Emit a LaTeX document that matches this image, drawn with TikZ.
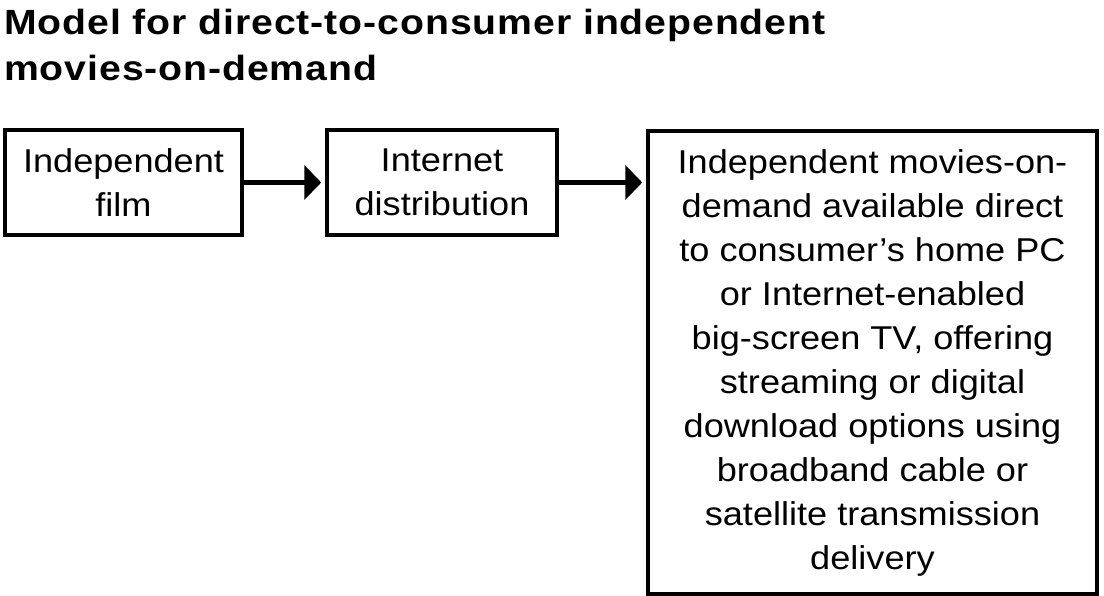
\documentclass[tikz,border=0pt]{standalone}
\usepackage{fontspec}
\setmainfont{Liberation Sans}
\newfontfamily\boxfont[FakeStretch=1.095]{Liberation Sans}
\newfontfamily\titlefont[FakeStretch=1.12,LetterSpace=2.6]{Liberation Sans Bold}
\usetikzlibrary{arrows.meta}
\begin{document}
\begin{tikzpicture}[x=1pt,y=-1pt,
  boxst/.style={draw=black,line width=3.5pt,inner sep=0pt,align=center,
    font=\boxfont\fontsize{33}{44}\selectfont},
  arr/.style={line width=4.5pt,-{Triangle[length=17pt,width=34pt]},shorten >=4pt}]
\useasboundingbox (0,0) rectangle (1104,596);
\node[anchor=north west,align=left,inner sep=0pt,font=\titlefont\fontsize{35}{46}\selectfont] (title) at (4,9) {Model for direct-to-consumer independent\\movies-on-demand};
\node[boxst,minimum width=237pt,minimum height=105pt] (b1) at (123.5,182.5) {Independent\\film};
\node[boxst,minimum width=230pt,minimum height=105pt] (b2) at (442,182.5) {Internet\\distribution};
\node[boxst,minimum width=449pt,minimum height=463pt] (b3) at (872.5,362.5) {Independent movies-on-\\demand available direct\\to consumer’s home PC\\or Internet-enabled\\big-screen TV, offering\\streaming or digital\\download options using\\broadband cable or\\satellite transmission\\delivery};
\draw[arr] (b1.east) -- (b2.west);
\draw[arr] (b2.east) -- (b2.east -| b3.west);
\end{tikzpicture}
\end{document}
